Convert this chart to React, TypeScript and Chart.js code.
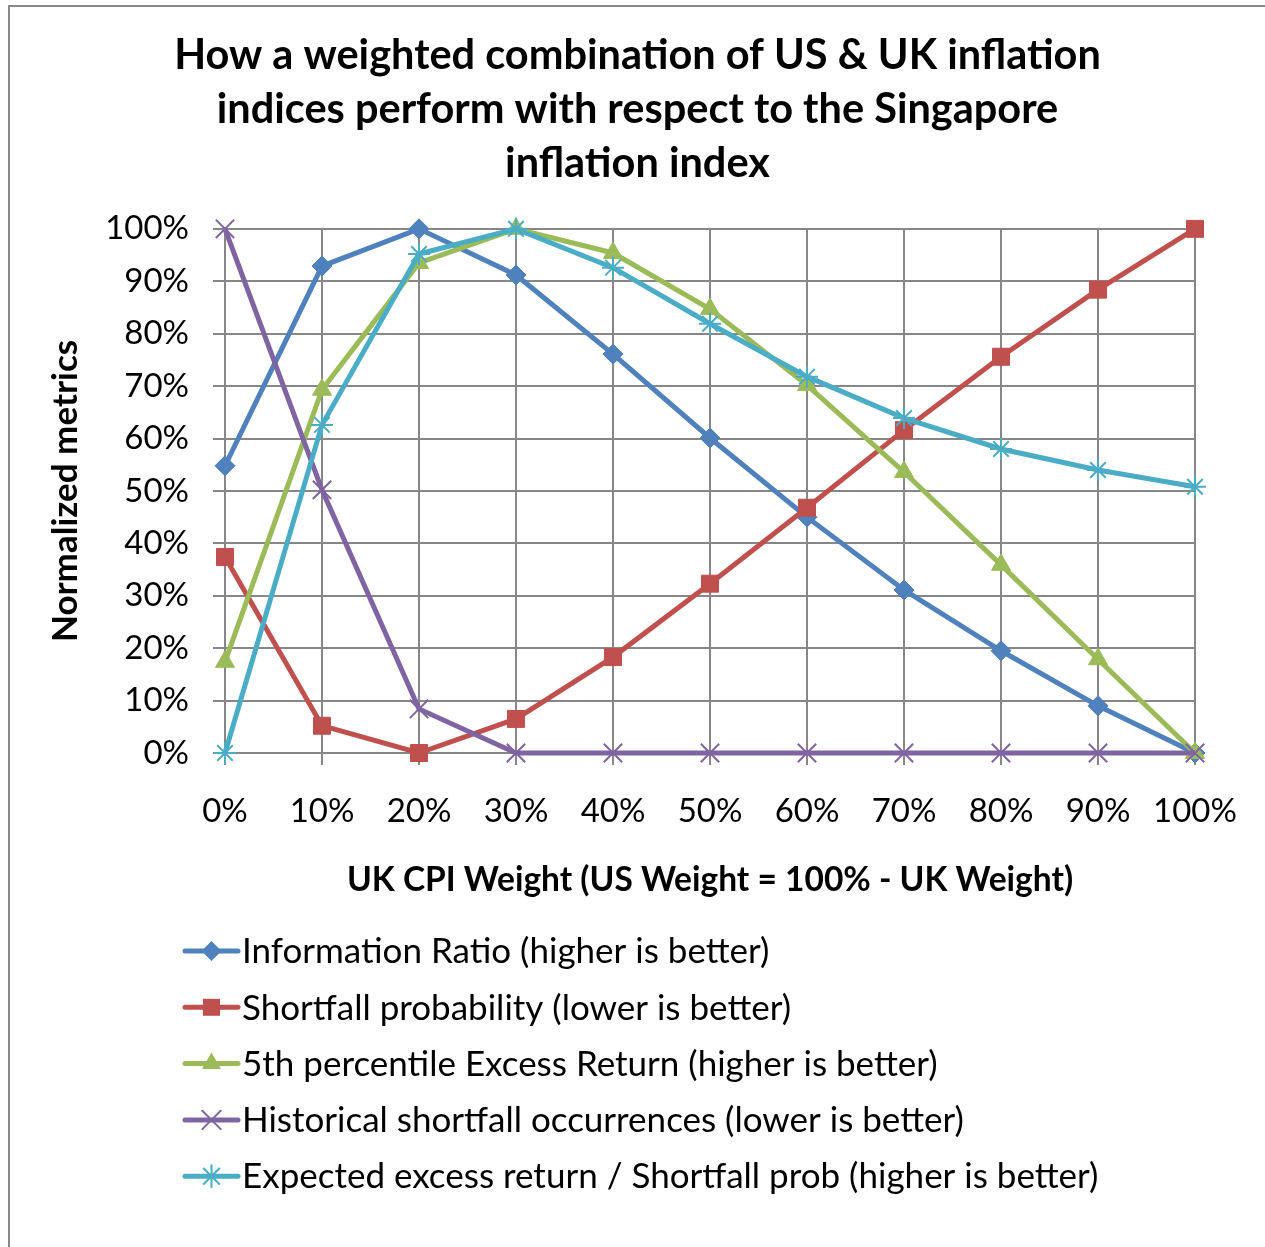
import React, { useEffect, useRef } from 'react';
import { Chart, registerables } from 'chart.js';

Chart.register(...registerables);

const categories = ['0%', '10%', '20%', '30%', '40%', '50%', '60%', '70%', '80%', '90%', '100%'];
const informationRatio = [54.8, 92.9, 100, 91.2, 76.1, 60.1, 45.0, 31.1, 19.5, 9.0, 0];
const shortfallProbability = [37.4, 5.2, 0, 6.5, 18.3, 32.3, 46.8, 61.6, 75.6, 88.4, 100];
const fifthPercentileExcess = [17.4, 69.3, 93.5, 100, 95.4, 84.7, 70.2, 53.6, 35.9, 17.9, 0];
const historicalShortfall = [100, 50.2, 8.4, 0, 0, 0, 0, 0, 0, 0, 0];
const expectedExcessRatio = [0, 62.6, 95.2, 100, 92.6, 81.9, 71.8, 63.9, 58.0, 54.0, 50.8];

const seriesNames = [
  'Information Ratio (higher is better)',
  'Shortfall probability (lower is better)',
  '5th percentile Excess Return (higher is better)',
  'Historical shortfall occurrences (lower is better)',
  'Expected excess return / Shortfall prob (higher is better)',
];
const seriesColors = ['#4F81BD', '#C0504D', '#9BBB59', '#8064A2', '#4BACC6'];
const seriesMarkers = ['rectRot', 'rect', 'triangle', 'crossRot', 'star'];
const markerRadius = [10, 12, 11, 13, 11];

const titleLines = [
  'How a weighted combination of US & UK inflation',
  'indices perform with respect to the Singapore',
  'inflation index',
];
const xTitle = 'UK CPI Weight (US Weight = 100% - UK Weight)';
const yTitle = 'Normalized metrics';

const FONT = 'Lato, "Open Sans", sans-serif';
const GRID = '#878787';

function drawMarker(ctx: CanvasRenderingContext2D, style: string, x: number, y: number, r: number, color: string) {
  ctx.save();
  ctx.fillStyle = color;
  ctx.strokeStyle = color;
  ctx.beginPath();
  if (style === 'rectRot') {
    ctx.moveTo(x, y - r);
    ctx.lineTo(x + r, y);
    ctx.lineTo(x, y + r);
    ctx.lineTo(x - r, y);
    ctx.closePath();
    ctx.fill();
  } else if (style === 'rect') {
    const s = r * Math.SQRT1_2;
    ctx.rect(x - s, y - s, 2 * s, 2 * s);
    ctx.fill();
  } else if (style === 'triangle') {
    ctx.moveTo(x, y - r);
    ctx.lineTo(x + r * 0.866, y + r * 0.5);
    ctx.lineTo(x - r * 0.866, y + r * 0.5);
    ctx.closePath();
    ctx.fill();
  } else if (style === 'crossRot' || style === 'star') {
    ctx.lineWidth = 2;
    const o = r * Math.SQRT1_2;
    ctx.moveTo(x - o, y - o);
    ctx.lineTo(x + o, y + o);
    ctx.moveTo(x - o, y + o);
    ctx.lineTo(x + o, y - o);
    if (style === 'star') {
      ctx.moveTo(x, y - r);
      ctx.lineTo(x, y + r);
    }
    ctx.stroke();
  }
  ctx.restore();
}

const framePlugin = {
  id: 'frame',
  beforeDraw(chart: any) {
    const ctx = chart.ctx as CanvasRenderingContext2D;
    ctx.save();
    ctx.fillStyle = '#ffffff';
    ctx.fillRect(0, 0, chart.width, chart.height);
    ctx.strokeStyle = GRID;
    ctx.lineWidth = 2;
    ctx.beginPath();
    ctx.moveTo(9, chart.height);
    ctx.lineTo(9, 6);
    ctx.lineTo(chart.width, 6);
    ctx.stroke();
    ctx.restore();
  },
};

const legendPlugin = {
  id: 'customLegend',
  afterDraw(chart: any) {
    const ctx = chart.ctx as CanvasRenderingContext2D;
    const left = 183;
    const lineLen = 57;
    const top = chart.chartArea.bottom + 198;
    const gap = 56.3;
    ctx.save();
    chart.data.datasets.forEach((ds: any, i: number) => {
      const y = top + i * gap;
      ctx.strokeStyle = ds.borderColor;
      ctx.lineWidth = 5;
      ctx.lineCap = 'round';
      ctx.beginPath();
      ctx.moveTo(left + 2, y);
      ctx.lineTo(left + lineLen - 2, y);
      ctx.stroke();
      drawMarker(ctx, ds.pointStyle, left + lineLen / 2, y, ds.pointRadius, ds.borderColor);
      ctx.fillStyle = '#000000';
      ctx.font = `35px ${FONT}`;
      ctx.textBaseline = 'middle';
      ctx.textAlign = 'left';
      ctx.fillText(ds.label, left + lineLen + 2, y + 1);
    });
    ctx.restore();
  },
};

export default function App() {
  const canvasRef = useRef<HTMLCanvasElement | null>(null);

  useEffect(() => {
    const canvas = canvasRef.current;
    if (!canvas) return;
    const dataArrays = [informationRatio, shortfallProbability, fifthPercentileExcess, historicalShortfall, expectedExcessRatio];
    const chart = new Chart(canvas, {
      type: 'line',
      data: {
        labels: categories,
        datasets: dataArrays.map((arr, i) => ({
          label: seriesNames[i],
          data: arr,
          borderColor: seriesColors[i],
          backgroundColor: seriesColors[i],
          pointBackgroundColor: seriesColors[i],
          pointBorderColor: seriesColors[i],
          pointStyle: seriesMarkers[i] as any,
          pointRadius: markerRadius[i],
          pointBorderWidth: seriesMarkers[i] === 'crossRot' || seriesMarkers[i] === 'star' ? 2 : 1,
          borderWidth: 5,
          tension: 0,
          fill: false,
          clip: false as any,
          order: dataArrays.length - 1 - i,
        })),
      },
      options: {
        responsive: false,
        animation: false,
        maintainAspectRatio: false,
        layout: { padding: { top: 0, left: 10, right: 0, bottom: 347 } },
        plugins: {
          legend: { display: false },
          tooltip: { enabled: false },
          title: {
            display: true,
            text: titleLines,
            color: '#000000',
            font: { family: FONT, size: 41.5, weight: 'bold', lineHeight: 1.3 },
            padding: { top: 29, bottom: 38 },
          },
        },
        scales: {
          x: {
            type: 'category',
            offset: false,
            afterFit(scale: any) {
              scale.height = 147;
              scale.paddingRight = 70;
            },
            grid: { color: GRID, lineWidth: 2, drawTicks: true, tickLength: 12, tickColor: GRID },
            border: { color: GRID, width: 2 },
            ticks: {
              color: '#000000',
              font: { family: FONT, size: 33 },
              padding: 27,
              maxRotation: 0,
              autoSkip: false,
            },
            title: {
              display: true,
              text: xTitle,
              color: '#000000',
              font: { family: FONT, size: 33.5, weight: 'bold' },
              padding: { top: 0, bottom: 0 },
            },
          },
          y: {
            min: 0,
            max: 100,
            afterFit(scale: any) {
              scale.width = 215;
            },
            grid: { color: GRID, lineWidth: 2, drawTicks: true, tickLength: 12, tickColor: GRID },
            border: { color: GRID, width: 2 },
            ticks: {
              stepSize: 10,
              color: '#000000',
              font: { family: FONT, size: 33 },
              padding: 24,
              callback: (v: any) => `${v}%`,
            },
            title: {
              display: true,
              text: yTitle,
              color: '#000000',
              font: { family: FONT, size: 35, weight: 'bold' },
              padding: { top: 35, bottom: 0 },
            },
          },
        },
      },
      plugins: [framePlugin, legendPlugin],
    });
    return () => chart.destroy();
  }, []);

  return (
    <div style={{ position: 'absolute', left: 0, top: 0, width: 1265, height: 1247 }}>
      <canvas ref={canvasRef} width={1265} height={1247} style={{ display: 'block', width: 1265, height: 1247 }} />
    </div>
  );
}
